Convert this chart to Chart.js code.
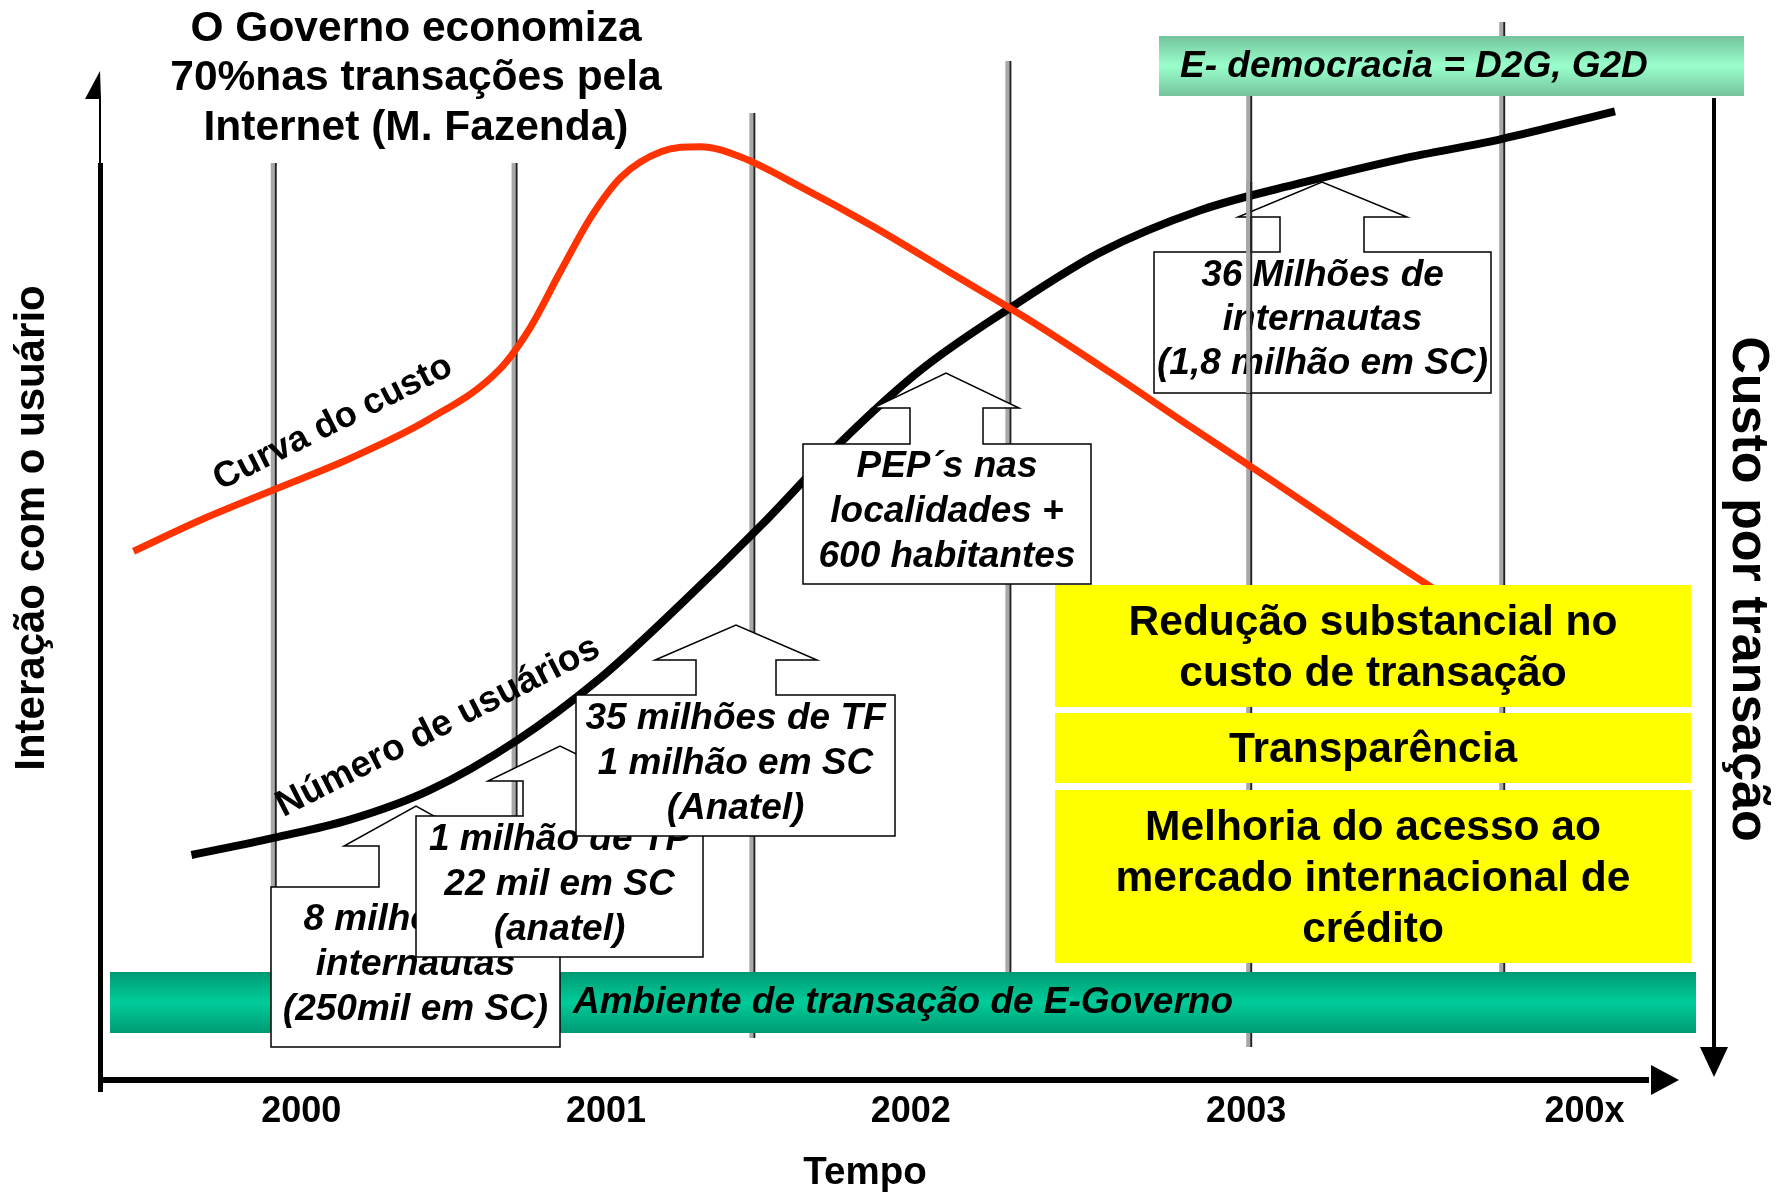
<!DOCTYPE html>
<html>
<head>
<meta charset="utf-8">
<title>E-Governo</title>
<script src="https://cdn.jsdelivr.net/npm/chart.js@4/dist/chart.umd.min.js"></script>
<style>
  html, body { margin: 0; padding: 0; background: #ffffff; }
  canvas { display: block; }
</style>
</head>
<body>
<canvas id="eGovChart" width="1785" height="1193"></canvas>
<script>
// ==========================================
// DATA
// ==========================================
// "Número de usuários" curve: time in years, interaction level 0-100
const usersX = [1999.64, 1999.91, 2000.16, 2000.42, 2000.71, 2000.98, 2001.24, 2001.51, 2001.77, 2002.03,
                2002.33, 2002.62, 2002.95, 2003.28, 2003.61, 2003.93, 2004.31];
const usersY = [22.3, 24.0, 25.8, 28.7, 33.7, 39.8, 47.0, 55.0, 63.2, 70.3,
                76.6, 82.0, 86.2, 88.9, 91.3, 93.2, 96.0];

// "Curva do custo"
const costX = [1999.45, 1999.67, 1999.91, 2000.16, 2000.42, 2000.65, 2000.75, 2000.85, 2000.95, 2001.05,
               2001.18, 2001.31, 2001.44, 2001.64, 2001.87, 2002.13, 2002.39, 2002.65, 2002.92, 2003.18,
               2003.44, 2003.70, 2003.84];
const costY = [52.4, 55.5, 58.5, 61.6, 65.5, 70.4, 74.5, 80.1, 85.5, 89.5,
               92.0, 92.5, 91.5, 88.5, 84.7, 80.0, 75.3, 70.2, 64.7, 59.5,
               54.2, 49.0, 46.4];

// x axis labels and where they sit on the time scale
const tickLabels = ['2000', '2001', '2002', '2003', '200x'];
const tickYears = [2000.00, 2001.00, 2002.00, 2003.10, 2004.21];

// vertical time lines
const gridYears = [1999.91, 2000.70, 2001.48, 2002.32, 2003.11, 2003.94];

// annotation texts
const titleLines = ['O Governo economiza', '70%nas transações pela', 'Internet (M. Fazenda)'];
const calloutTexts = [
    ['8 milhões de', 'internautas', '(250mil em SC)'],
    ['1 milhão de TP', '22 mil em SC', '(anatel)'],
    ['35 milhões de TF', '1 milhão em SC', '(Anatel)'],
    ['PEP´s nas', 'localidades +', '600 habitantes'],
    ['36 Milhões de', 'internautas', '(1,8 milhão em SC)']
];
const benefitTexts = [
    ['Redução substancial no', 'custo de transação'],
    ['Transparência'],
    ['Melhoria do acesso ao', 'mercado internacional de', 'crédito']
];

// ==========================================
// LAYOUT (pixels)
// ==========================================
const FONT = '"Liberation Sans", Arial, sans-serif';

// top / bottom of each time line
const gridSpan = [[163, 972], [163, 972], [113, 1038], [61, 972], [96, 1047], [22, 972]];

// callout shapes: box [x1,y1,x2,y2], stem [l,r], shoulder y, shoulder [l,r], apex [x,y], text lines
const callouts = [
    { box: [271, 887, 560, 1047], stem: [379, 453], sy: 846, sh: [344, 488], apex: [416, 806], lines: [920, 965, 1010] },
    { box: [416, 816, 703, 957], stem: [523, 597], sy: 781, sh: [488, 632], apex: [560, 746], lines: [840, 885, 930] },
    { box: [576, 695, 895, 836], stem: [696, 776], sy: 660, sh: [655, 817], apex: [736, 625], lines: [719, 764, 809] },
    { box: [803, 444, 1091, 584], stem: [910, 983], sy: 408, sh: [873, 1019], apex: [946, 373], lines: [467, 512, 557] },
    { box: [1154, 252, 1491, 393], stem: [1280, 1364], sy: 217, sh: [1238, 1407], apex: [1322, 182], lines: [276, 320, 364] }
];

const yellowBoxes = [
    { y1: 585, y2: 707, lines: [623, 674] },
    { y1: 713, y2: 783, lines: [750] },
    { y1: 790, y2: 963, lines: [828, 879, 930] }
];

// draw a text, squeezing it horizontally if it is wider than maxW
function putText(ctx, text, x, y, maxW) {
    const w = ctx.measureText(text).width;
    if (maxW && w > maxW) {
        ctx.save();
        ctx.translate(x, y);
        ctx.scale(maxW / w, 1);
        ctx.fillText(text, 0, 0);
        ctx.restore();
    } else {
        ctx.fillText(text, x, y);
    }
}

function drawGridLine(ctx, x, top, bottom) {
    ctx.fillStyle = '#a8a8a8';
    ctx.fillRect(x - 3, top, 4, bottom - top);
    ctx.fillStyle = '#222222';
    ctx.fillRect(x + 1, top, 2, bottom - top);
}

function drawCallout(ctx, c, lines) {
    const [x1, y1, x2, y2] = c.box;
    ctx.beginPath();
    ctx.moveTo(x1, y2);
    ctx.lineTo(x1, y1);
    ctx.lineTo(c.stem[0], y1);
    ctx.lineTo(c.stem[0], c.sy);
    ctx.lineTo(c.sh[0], c.sy);
    ctx.lineTo(c.apex[0], c.apex[1]);
    ctx.lineTo(c.sh[1], c.sy);
    ctx.lineTo(c.stem[1], c.sy);
    ctx.lineTo(c.stem[1], y1);
    ctx.lineTo(x2, y1);
    ctx.lineTo(x2, y2);
    ctx.closePath();
    ctx.fillStyle = '#ffffff';
    ctx.fill();
    ctx.lineWidth = 1.5;
    ctx.strokeStyle = '#000000';
    ctx.stroke();

    ctx.fillStyle = '#000000';
    ctx.font = 'italic bold 37px ' + FONT;
    ctx.textAlign = 'center';
    ctx.textBaseline = 'middle';
    const cx = (x1 + x2) / 2;
    lines.forEach(function (t, i) {
        putText(ctx, t, cx, c.lines[i], x2 - x1 - 6);
    });
}

// ==========================================
// PLUGIN: everything that is not a curve
// ==========================================
const diagramPlugin = {
    id: 'diagram',
    beforeDraw(chart) {
        const ctx = chart.ctx;
        ctx.save();
        ctx.fillStyle = '#ffffff';
        ctx.fillRect(0, 0, chart.width, chart.height);
        ctx.restore();
    },
    beforeDatasetsDraw(chart) {
        const ctx = chart.ctx;
        const xs = chart.scales.x;
        ctx.save();
        gridYears.forEach(function (yr, i) {
            drawGridLine(ctx, xs.getPixelForValue(yr), gridSpan[i][0], gridSpan[i][1]);
        });
        ctx.restore();
    },
    afterDatasetsDraw(chart) {
        const ctx = chart.ctx;
        const xs = chart.scales.x;
        const area = chart.chartArea;
        ctx.save();

        // green band at the bottom
        let g = ctx.createLinearGradient(0, 972, 0, 1033);
        g.addColorStop(0, '#009a74');
        g.addColorStop(0.5, '#00cc99');
        g.addColorStop(1, '#009a74');
        ctx.fillStyle = g;
        ctx.fillRect(110, 972, 1586, 61);
        ctx.fillStyle = '#000000';
        ctx.font = 'italic bold 37px ' + FONT;
        ctx.textAlign = 'left';
        ctx.textBaseline = 'middle';
        ctx.fillText('Ambiente de transação de E-Governo', 573, 1003);

        // yellow benefit boxes
        yellowBoxes.forEach(function (b, i) {
            ctx.fillStyle = '#ffff00';
            ctx.fillRect(1055, b.y1, 636, b.y2 - b.y1);
            ctx.fillStyle = '#000000';
            ctx.font = 'bold 42.5px ' + FONT;
            ctx.textAlign = 'center';
            benefitTexts[i].forEach(function (t, j) {
                putText(ctx, t, 1373, b.lines[j], 620);
            });
        });

        // E-democracia box
        g = ctx.createLinearGradient(0, 36, 0, 96);
        g.addColorStop(0, '#74c39c');
        g.addColorStop(0.5, '#9affcc');
        g.addColorStop(1, '#74c39c');
        ctx.fillStyle = g;
        ctx.fillRect(1159, 36, 585, 60);
        ctx.fillStyle = '#000000';
        ctx.font = 'italic bold 37px ' + FONT;
        ctx.textAlign = 'left';
        ctx.fillText('E- democracia = D2G, G2D', 1180, 67);

        // callouts
        callouts.forEach(function (c, i) {
            drawCallout(ctx, c, calloutTexts[i]);
        });
        // the 2003 line runs over the last callout
        drawGridLine(ctx, xs.getPixelForValue(gridYears[4]), 182, 393);

        // axes
        ctx.fillStyle = '#000000';
        // left axis
        ctx.fillRect(area.left - 2, 163, 5, 1092 - 163);
        ctx.fillRect(area.left - 1, 96, 2, 70);
        ctx.beginPath();
        ctx.moveTo(area.left, area.top);
        ctx.lineTo(area.left - 15, area.top + 28);
        ctx.lineTo(area.left + 1, area.top + 28);
        ctx.closePath();
        ctx.fill();
        // bottom axis
        ctx.fillRect(area.left - 2, area.bottom - 3, 1651 - area.left, 6);
        ctx.beginPath();
        ctx.moveTo(1651, area.bottom - 15);
        ctx.lineTo(area.right, area.bottom);
        ctx.lineTo(1651, area.bottom + 15);
        ctx.closePath();
        ctx.fill();
        // right axis, pointing down
        ctx.fillRect(1712, 98, 4, 1047 - 98);
        ctx.beginPath();
        ctx.moveTo(1700, 1047);
        ctx.lineTo(1714, 1077);
        ctx.lineTo(1728, 1047);
        ctx.closePath();
        ctx.fill();

        // tick labels
        ctx.font = 'bold 36px ' + FONT;
        ctx.textAlign = 'center';
        ctx.textBaseline = 'middle';
        tickLabels.forEach(function (t, i) {
            ctx.fillText(t, xs.getPixelForValue(tickYears[i]), 1112);
        });
        ctx.font = 'bold 38.5px ' + FONT;
        ctx.fillText('Tempo', 865, 1173);

        // title
        ctx.font = 'bold 42.5px ' + FONT;
        titleLines.forEach(function (t, i) {
            ctx.fillText(t, 416, 29 + i * 49.5);
        });

        // axis titles
        ctx.save();
        ctx.translate(32, 528);
        ctx.rotate(-Math.PI / 2);
        ctx.font = 'bold 42px ' + FONT;
        ctx.fillText('Interação com o usuário', 0, 0);
        ctx.restore();

        ctx.save();
        ctx.translate(1747, 589);
        ctx.rotate(Math.PI / 2);
        ctx.font = 'bold 52px ' + FONT;
        ctx.fillText('Custo por transação', 0, 0);
        ctx.restore();

        // curve labels
        ctx.save();
        ctx.translate(333, 423);
        ctx.rotate(-26.6 * Math.PI / 180);
        ctx.font = 'bold 36px ' + FONT;
        ctx.fillText('Curva do custo', 0, 0);
        ctx.restore();

        ctx.save();
        ctx.translate(438, 727);
        ctx.rotate(-27 * Math.PI / 180);
        ctx.font = 'bold 37px ' + FONT;
        ctx.fillText('Número de usuários', 0, 0);
        ctx.restore();

        ctx.restore();
    }
};

// ==========================================
// CHART
// ==========================================
const ctx = document.getElementById('eGovChart');

new Chart(ctx, {
    type: 'line',
    data: {
        datasets: [
            {
                label: 'Curva do custo',
                data: costX.map(function (x, i) { return { x: x, y: costY[i] }; }),
                borderColor: '#ff3300',
                borderWidth: 7,
                cubicInterpolationMode: 'monotone',
                pointRadius: 0,
                fill: false
            },
            {
                label: 'Número de usuários',
                data: usersX.map(function (x, i) { return { x: x, y: usersY[i] }; }),
                borderColor: '#000000',
                borderWidth: 8,
                cubicInterpolationMode: 'monotone',
                pointRadius: 0,
                fill: false
            }
        ]
    },
    options: {
        responsive: false,
        devicePixelRatio: 1,
        animation: false,
        layout: { padding: { left: 100, top: 71, right: 106, bottom: 113 } },
        plugins: {
            legend: { display: false },
            tooltip: { enabled: false }
        },
        scales: {
            x: { type: 'linear', min: 1999.34, max: 2004.52, display: false },
            y: { type: 'linear', min: 0, max: 100, display: false }
        }
    },
    plugins: [diagramPlugin]
});
</script>
</body>
</html>
